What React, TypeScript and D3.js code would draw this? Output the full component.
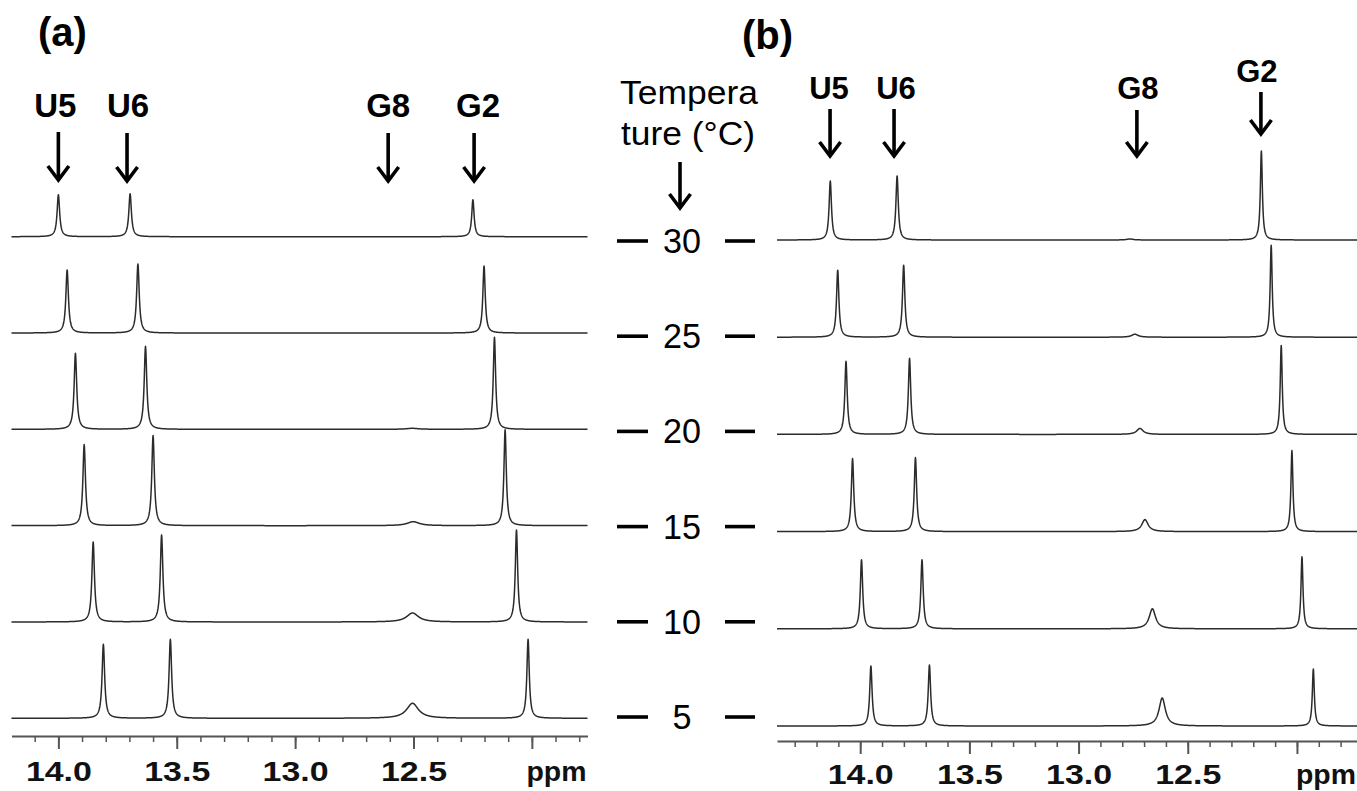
import React, { useEffect, useRef } from 'react';
import * as d3 from 'd3';

// temperatures, top row first
const temperatures = [30, 25, 20, 15, 10, 5];
const peakNames = ['U5', 'U6', 'G8', 'G2'];

// panel (a): chemical shift (ppm) per row, columns U5, U6, G8, G2
const shiftsA = [
  [14.0, 13.697, 12.51, 12.249],
  [13.963, 13.664, 12.51, 12.202],
  [13.928, 13.632, 12.505, 12.158],
  [13.891, 13.6, 12.501, 12.113],
  [13.853, 13.564, 12.504, 12.065],
  [13.81, 13.527, 12.504, 12.016],
];
// peak heights (arbitrary units)
const heightsA = [
  [42, 43, 0, 37],
  [63, 69, 0, 67],
  [76, 83, 1, 92],
  [81, 90, 4, 96],
  [80, 87, 9, 92],
  [74, 79, 15, 79],
];
// line widths (ppm, full width at half height)
const widthsA = [0.013, 0.013, 0.06, 0.012];
// where the assignment arrows point
const labelPpmA = [14.0, 13.71, 12.607, 12.244];

// panel (b)
const shiftsB = [
  [14.137, 13.831, 12.765, 12.163],
  [14.103, 13.801, 12.742, 12.118],
  [14.065, 13.774, 12.719, 12.072],
  [14.035, 13.747, 12.696, 12.023],
  [13.994, 13.717, 12.662, 11.977],
  [13.951, 13.683, 12.617, 11.925],
];
const heightsB = [
  [59, 64, 1, 89],
  [67, 72, 3, 92],
  [73, 76, 6, 89],
  [73, 74, 12, 81],
  [69, 69, 20, 72],
  [60, 61, 28, 57],
];
const widthsB = [0.013, 0.013, 0.035, 0.011];
const labelPpmB = [14.138, 13.845, 12.733, 12.165];

const majorTicks = [14.0, 13.5, 13.0, 12.5, 12.0];
const labelledTicks = [14.0, 13.5, 13.0, 12.5];

const W = 1357;
const H = 791;
const FONT = 'Liberation Sans, Arial, Helvetica, sans-serif';

function lorentz(p, c, h, w) {
  const t = (p - c) / (w / 2);
  return h / (1 + t * t);
}

function drawArrow(g, x, y1, y2) {
  g.append('line')
    .attr('x1', x).attr('x2', x)
    .attr('y1', y1).attr('y2', y2 - 1)
    .attr('stroke', '#000').attr('stroke-width', 3.6);
  g.append('path')
    .attr('d', `M${x - 10.5},${y2 - 14} L${x},${y2} L${x + 10.5},${y2 - 14}`)
    .attr('fill', 'none')
    .attr('stroke', '#000')
    .attr('stroke-width', 3.6);
}

function drawPanel(svg, opt) {
  const { x, yRow, shifts, heights, widths, ppmMax, ppmMin, axisY } = opt;
  const amp = d3.scaleLinear().domain([0, 100]).range([0, 100]);
  const g = svg.append('g');

  const ppms = d3.range(Math.round(ppmMax * 1000), Math.round(ppmMin * 1000) - 1, -1).map(v => v / 1000);
  const line = d3.line().x(d => x(d[0])).y(d => d[1]);

  temperatures.forEach((t, i) => {
    const base = yRow(t);
    const pts = ppms.map(p => {
      let s = 0;
      shifts[i].forEach((c, k) => { s += lorentz(p, c, heights[i][k], widths[k]); });
      return [p, base - amp(s)];
    });
    g.append('path')
      .attr('d', line(pts))
      .attr('fill', 'none')
      .attr('stroke', '#2b2b2b')
      .attr('stroke-width', 1.5)
      .attr('stroke-linejoin', 'round');
  });

  // axis: minor ticks every 0.1, long ticks every 0.5
  const minor = d3.range(Math.floor(ppmMax * 10), Math.ceil(ppmMin * 10) - 1, -1).map(v => v / 10);
  const ax = g.append('g').attr('transform', `translate(0,${axisY})`);
  ax.call(d3.axisBottom(x).tickValues(minor).tickSize(6).tickSizeOuter(0).tickFormat(() => ''));
  ax.call(g2 => g2.select('.domain').attr('stroke', '#555').attr('stroke-width', 2));
  ax.selectAll('.tick line').attr('stroke', '#555').attr('stroke-width', 1.5);

  const ax2 = g.append('g').attr('transform', `translate(0,${axisY})`);
  ax2.call(d3.axisBottom(x).tickValues(majorTicks).tickSize(13).tickSizeOuter(0)
    .tickFormat(d => (labelledTicks.includes(d) ? d3.format('.1f')(d) : '')));
  ax2.select('.domain').remove();
  ax2.selectAll('.tick line').attr('stroke', '#555').attr('stroke-width', 2);
  ax2.selectAll('.tick text')
    .attr('fill', '#111')
    .attr('font-family', FONT)
    .attr('font-weight', 'bold')
    .attr('font-size', 28)
    .attr('dy', null)
    .attr('y', opt.labelY - axisY)
    .attr('textLength', 66)
    .attr('lengthAdjust', 'spacingAndGlyphs');

  g.append('text')
    .attr('x', x.range()[1] - 1)
    .attr('y', opt.labelY)
    .attr('text-anchor', 'end')
    .attr('font-family', FONT)
    .attr('font-weight', 'bold')
    .attr('font-size', 28)
    .attr('textLength', 60)
    .attr('lengthAdjust', 'spacingAndGlyphs')
    .attr('fill', '#111')
    .text('ppm');

  // assignment labels and arrows
  opt.labelPpm.forEach((p, k) => {
    const cx = x(p);
    const lay = opt.labelLayout[k];
    g.append('text')
      .attr('x', cx + (opt.labelDx ? opt.labelDx[k] : 0))
      .attr('y', lay.textY)
      .attr('text-anchor', 'middle')
      .attr('font-family', FONT)
      .attr('font-weight', 'bold')
      .attr('font-size', opt.labelSize)
      .attr('fill', '#000')
      .text(peakNames[k]);
    drawArrow(g, cx, lay.y1, lay.y2);
  });

  g.append('text')
    .attr('x', opt.panelX)
    .attr('y', opt.panelY)
    .attr('font-family', FONT)
    .attr('font-weight', 'bold')
    .attr('font-size', 40)
    .attr('fill', '#000')
    .text(opt.panelLabel);
}

export default function App() {
  const ref = useRef(null);

  useEffect(() => {
    const svg = d3.select(ref.current);
    svg.selectAll('*').remove();

    const xA = d3.scaleLinear().domain([14.198, 11.765]).range([11.5, 587.5]);
    const yRowA = d3.scaleLinear().domain([30, 5]).range([236.7, 718.3]);
    const xB = d3.scaleLinear().domain([14.381, 11.725]).range([777, 1357]);
    const yRowB = d3.scaleLinear().domain([30, 5]).range([240, 726]);
    const yTemp = d3.scaleLinear().domain([30, 5]).range([240, 716]);

    drawPanel(svg, {
      x: xA, yRow: yRowA, shifts: shiftsA, heights: heightsA, widths: widthsA,
      ppmMax: 14.198, ppmMin: 11.765, axisY: 736, labelY: 781,
      labelPpm: labelPpmA,
      labelDx: [-3, 1, 0, 4],
      labelLayout: [
        { textY: 117, y1: 132, y2: 180 },
        { textY: 117, y1: 133, y2: 181 },
        { textY: 117, y1: 133, y2: 181 },
        { textY: 117, y1: 133, y2: 181 },
      ],
      labelSize: 33,
      panelLabel: '(a)', panelX: 38, panelY: 46,
    });

    drawPanel(svg, {
      x: xB, yRow: yRowB, shifts: shiftsB, heights: heightsB, widths: widthsB,
      ppmMax: 14.381, ppmMin: 11.725, axisY: 741, labelY: 784,
      labelPpm: labelPpmB,
      labelDx: [-1, 2, 1, -4],
      labelLayout: [
        { textY: 99, y1: 109, y2: 156 },
        { textY: 99, y1: 109, y2: 156 },
        { textY: 99, y1: 110, y2: 156 },
        { textY: 82, y1: 92, y2: 134 },
      ],
      labelSize: 31,
      panelLabel: '(b)', panelX: 742, panelY: 49,
    });

    // temperature column between the panels
    const mid = svg.append('g');
    mid.append('text')
      .attr('x', 620).attr('y', 104)
      .attr('font-family', FONT).attr('font-size', 34)
      .attr('textLength', 138).attr('lengthAdjust', 'spacingAndGlyphs')
      .text('Tempera');
    mid.append('text')
      .attr('x', 621).attr('y', 145)
      .attr('font-family', FONT).attr('font-size', 34)
      .attr('textLength', 134).attr('lengthAdjust', 'spacingAndGlyphs')
      .text('ture (°C)');
    drawArrow(mid, 680, 162, 208);

    temperatures.forEach(t => {
      const y = yTemp(t);
      mid.append('line').attr('x1', 617).attr('x2', 648).attr('y1', y + 1).attr('y2', y + 1)
        .attr('stroke', '#000').attr('stroke-width', 3.6);
      mid.append('line').attr('x1', 725).attr('x2', 755).attr('y1', y + 1).attr('y2', y + 1)
        .attr('stroke', '#000').attr('stroke-width', 3.6);
      mid.append('text')
        .attr('x', 682).attr('y', y + 13)
        .attr('text-anchor', 'middle')
        .attr('font-family', FONT).attr('font-size', 35)
        .attr('textLength', String(t).length * 19).attr('lengthAdjust', 'spacingAndGlyphs')
        .text(String(t));
    });
  }, []);

  return (
    <svg
      ref={ref}
      width={W}
      height={H}
      viewBox={`0 0 ${W} ${H}`}
      style={{ position: 'absolute', left: 0, top: 0, background: '#fff' }}
    />
  );
}
